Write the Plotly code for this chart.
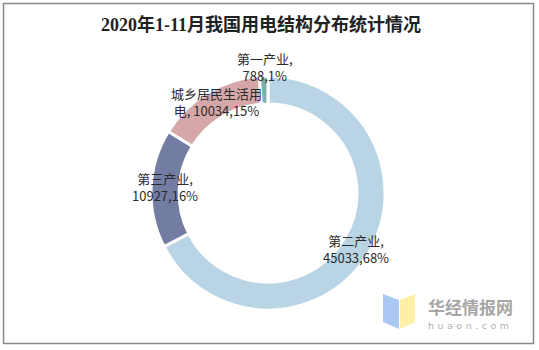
import plotly.graph_objects as go

W, H = 539, 350

title = "2020年1-11月我国用电结构分布统计情况"
categories = ["第二产业", "第三产业", "城乡居民生活用电", "第一产业"]
values = [45033, 10927, 10034, 788]
percents = [68, 16, 15, 1]
colors = ["#B8D4E5", "#737CA2", "#D5A7A8", "#7FAFAE"]

# label text lines (as printed in the reference)
label_texts = [
    f"{categories[0]},<br>{values[0]},{percents[0]}%",
    f"{categories[1]},<br>{values[1]},{percents[1]}%",
    f"{categories[2][:7]}<br>{categories[2][7:]}, {values[2]},{percents[2]}%",
    f"{categories[3]},<br>{values[3]},{percents[3]}%",
]
label_pos = [(356, 249), (165, 187), (216, 102), (265, 67)]


def px(x):
    return x / W


def py(y):
    return 1 - y / H


cx, cy, r = 268, 193, 117

fig = go.Figure()
fig.add_trace(go.Pie(
    labels=categories,
    values=values,
    sort=False,
    direction="clockwise",
    rotation=0,
    hole=0.76,
    marker=dict(colors=colors, line=dict(color="white", width=3)),
    textinfo="none",
    hoverinfo="label+value+percent",
    showlegend=False,
    domain=dict(x=[px(cx - r), px(cx + r)], y=[py(cy + r), py(cy - r)]),
))

annotations = []
for t, (x, y) in zip(label_texts, label_pos):
    annotations.append(dict(
        x=px(x), y=py(y), xref="paper", yref="paper",
        text=t, showarrow=False, xanchor="center", yanchor="middle",
        align="center", borderpad=0,
        font=dict(family="Noto Sans CJK SC", size=13, color="#2b2b2b"),
    ))

annotations.append(dict(
    x=px(261), y=py(25), xref="paper", yref="paper",
    text="<b>" + title + "</b>", showarrow=False,
    xanchor="center", yanchor="middle",
    font=dict(family="Liberation Serif, Noto Sans CJK SC", size=18, color="#222222"),
))

# watermark text
annotations.append(dict(
    x=px(470), y=py(306), xref="paper", yref="paper",
    text="<b>华经情报网</b>", showarrow=False, xanchor="center", yanchor="middle",
    font=dict(family="Noto Sans CJK SC", size=17, color="#a6a6a6"),
))
annotations.append(dict(
    x=px(470), y=py(325), xref="paper", yref="paper",
    text='<span style="letter-spacing:3.5px">huaon.com</span>', showarrow=False,
    xanchor="center", yanchor="middle",
    font=dict(family="DejaVu Sans", size=9.5, color="#b0b0b0"),
))

shapes = [
    dict(type="rect", xref="paper", yref="paper",
         x0=px(3.5), x1=px(533.5), y0=py(343.5), y1=py(3.5),
         line=dict(color="#8a8a8a", width=1.5), fillcolor="rgba(0,0,0,0)"),
    # logo: blue and yellow pages
    dict(type="path", xref="paper", yref="paper",
         path=f"M {px(383)} {py(294)} L {px(399)} {py(300)} L {px(399)} {py(329)} L {px(383)} {py(322)} Z",
         fillcolor="#A9C9F2", line=dict(width=0)),
    dict(type="path", xref="paper", yref="paper",
         path=f"M {px(400)} {py(300)} L {px(415)} {py(294)} L {px(415)} {py(322)} L {px(400)} {py(329)} Z",
         fillcolor="#FDEFA6", line=dict(width=0)),
]

fig.update_layout(
    width=W, height=H,
    margin=dict(l=0, r=0, t=0, b=0),
    paper_bgcolor="white", plot_bgcolor="white",
    annotations=annotations,
    shapes=shapes,
)

fig.write_html("out.html")
